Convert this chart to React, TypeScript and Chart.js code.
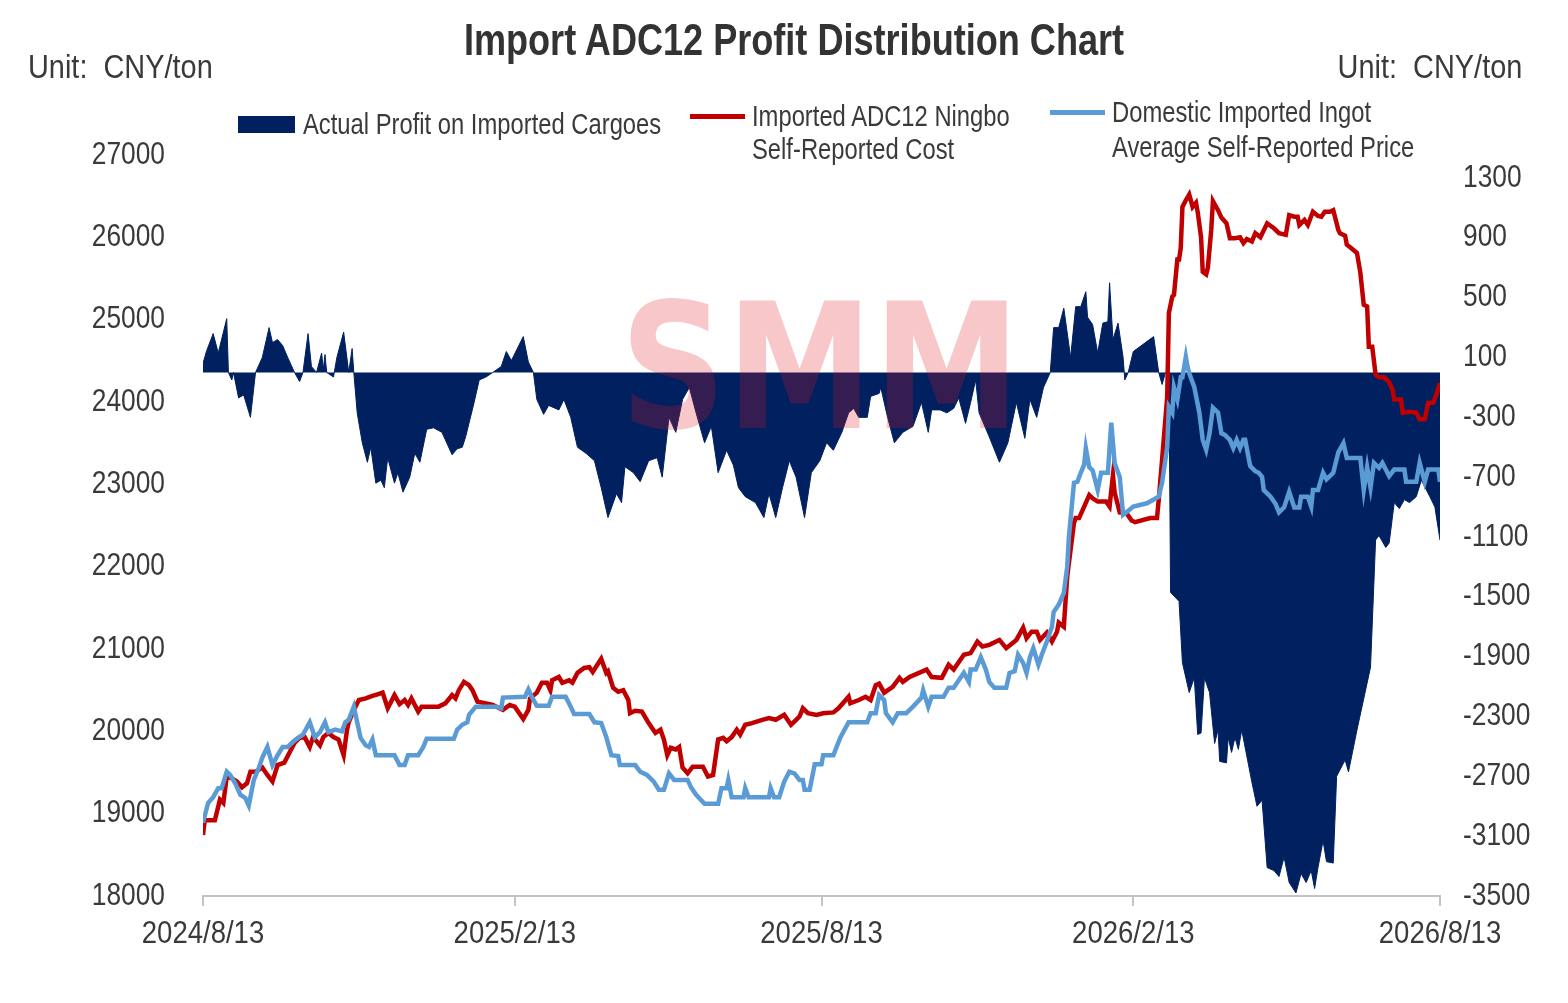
import React, { useEffect, useRef } from "react";
import { Chart, registerables } from "chart.js";

Chart.register(...registerables);

const FONT = "'Liberation Sans Narrow', 'Liberation Sans', Arial, sans-serif";
const TEXT = "#3a3a3a";
const NAVY = "#002060";
const RED = "#c00000";
const BLUE = "#5b9bd5";

// x axis: days since 2024/8/13
const xTickDays = [0, 184, 365, 549, 730];
const xTickLabels = ["2024/8/13", "2025/2/13", "2025/8/13", "2026/2/13", "2026/8/13"];
const leftTicks = [18000, 19000, 20000, 21000, 22000, 23000, 24000, 25000, 26000, 27000];
const rightTicks = [-3500, -3100, -2700, -2300, -1900, -1500, -1100, -700, -300, 100, 500, 900, 1300];

const seriesNames = [
  "Actual Profit on Imported Cargoes",
  "Imported ADC12 Ningbo Self-Reported Cost",
  "Domestic Imported Ingot Average Self-Reported Price",
];

// Actual profit on imported cargoes (right axis)
const profitDay = [
  0, 2, 6, 9, 14, 15, 17, 18, 21, 24, 28, 31, 35, 39, 41, 44, 47, 50, 54, 57, 59, 62, 64, 67, 70, 71, 72, 73, 77, 79,
  83, 86, 88, 89, 91, 94, 97, 99, 102, 105, 107, 109, 113, 115, 118, 122, 125, 128, 132, 136, 141, 147, 150, 153, 155,
  160, 163, 167, 171, 176, 179, 182, 189, 192, 195, 197, 201, 204, 210, 213, 217, 221, 226, 231, 235, 239, 244, 247,
  249, 254, 258, 263, 268, 271, 275, 279, 283, 287, 291, 296, 300, 304, 309, 313, 316, 320, 326, 331, 334, 338, 342,
  346, 350, 355, 359, 364, 368, 372, 377, 381, 384, 387, 392, 394, 399, 400, 404, 408, 413, 419, 424, 428, 430, 435,
  439, 443, 446, 450, 453, 456, 458, 464, 470, 475, 480, 485, 488, 492, 496, 500, 502, 505, 508, 512, 515, 518, 521,
  522, 525, 528, 531, 534, 535, 537, 540, 543, 544, 546, 549, 561, 564, 566, 568, 570, 571, 576, 578, 582, 585, 587,
  589, 591, 594, 597, 599, 600, 604, 605, 607, 609, 611, 613, 619, 622, 625, 628, 632, 635, 638, 641, 645, 648, 651,
  654, 656, 658, 661, 663, 667, 669, 674, 676, 681, 689, 692, 694, 698, 700, 703, 706, 709, 712, 716, 719, 724, 727, 730,
];
const profitValue = [
  60, 140, 260, 130, 360, 0, -50, 0, -170, -150, -300, 0, 100, 300, 200, 220, 180, 100, 0, -60, 0, 260, 40, 0, 130, 20,
  120, 0, -30, 100, 270, 0, 160, 0, -270, -470, -600, -500, -740, -720, -770, -570, -740, -670, -800, -700, -540, -600,
  -380, -370, -400, -550, -510, -500, -430, -200, -50, -30, 0, 40, 140, 80, 240, 70, 0, -180, -280, -220, -250, -180,
  -300, -500, -540, -590, -770, -970, -810, -870, -630, -670, -730, -590, -570, -700, -300, -400, -180, -100, -270,
  -470, -360, -670, -520, -620, -770, -830, -870, -970, -810, -970, -770, -590, -700, -970, -670, -590, -470, -520,
  -400, -270, -240, -300, -300, -160, -140, -100, -300, -470, -400, -360, -200, -400, -250, -250, -270, -240, -170,
  -340, -200, -50, -270, -430, -600, -470, -200, -440, -180, -300, -100, 0, 300, 300, 430, 100, 440, 440, 540, 370,
  320, 130, 330, 340, 600, 220, 330, 100, -50, 0, 140, 240, 0, -80, 0, 0, -1470, -1530, -1940, -2140, -2040, -2420,
  -2410, -2040, -2140, -2480, -2390, -2600, -2610, -2440, -2540, -2440, -2520, -2390, -2740, -2900, -2860, -3310,
  -3330, -3370, -3240, -3410, -3480, -3350, -3410, -3330, -3450, -3310, -3130, -3270, -3280, -2700, -2590, -2670,
  -2390, -1970, -1120, -1090, -1170, -1140, -870, -910, -850, -870, -830, -720, -830, -900, -1120,
];

// Imported ADC12 Ningbo self-reported cost (left axis)
const costDay = [
  0, 1, 7, 10, 12, 14, 17, 20, 23, 26, 28, 31, 35, 38, 41, 44, 48, 51, 54, 57, 60, 63, 65, 69, 71, 74, 77, 80, 83, 85,
  86, 89, 92, 96, 100, 103, 106, 109, 113, 116, 119, 121, 123, 127, 129, 139, 143, 147, 149, 151, 154, 157, 159, 162,
  167, 171, 177, 181, 184, 189, 192, 193, 197, 200, 203, 205, 206, 210, 212, 216, 218, 221, 225, 228, 230, 235, 238,
  239, 242, 245, 248, 251, 252, 255, 259, 263, 267, 270, 272, 274, 276, 279, 281, 283, 286, 289, 295, 298, 301, 304,
  307, 309, 312, 315, 317, 320, 324, 330, 334, 338, 343, 347, 350, 352, 354, 357, 362, 366, 372, 375, 381, 382, 387,
  391, 394, 397, 399, 402, 407, 411, 413, 417, 427, 430, 436, 440, 443, 449, 453, 457, 460, 464, 470, 474, 480, 484,
  486, 489, 492, 494, 498, 501, 504, 505, 508, 510, 514, 515, 517, 520, 523, 525, 528, 533, 535, 537, 538, 541, 545,
  548, 550, 559, 563, 564, 566, 569, 570, 572, 573, 575, 576, 577, 578, 580, 582, 584, 586, 587, 589, 590, 592, 593,
  595, 596, 599, 601, 604, 606, 609, 612, 614, 616, 619, 621, 624, 628, 632, 635, 639, 641, 644, 646, 647, 650, 652,
  655, 658, 660, 662, 665, 667, 670, 671, 674, 675, 677, 681, 683, 685, 687, 688, 690, 692, 694, 697, 700, 702, 703,
  707, 708, 712, 716, 718, 721, 723, 726, 728, 730,
];
const costValue = [
  18740, 18920, 18920, 19170, 19130, 19450, 19430, 19390, 19320, 19370, 19510, 19510, 19560, 19470, 19390, 19590,
  19620, 19740, 19860, 19920, 19930, 19810, 19930, 19830, 19930, 19980, 19930, 19900, 19710, 20020, 20110, 20260,
  20380, 20400, 20430, 20450, 20470, 20280, 20440, 20330, 20380, 20320, 20400, 20240, 20300, 20300, 20340, 20440,
  20400, 20500, 20600, 20560, 20500, 20360, 20340, 20320, 20260, 20320, 20300, 20150, 20260, 20400, 20470, 20590,
  20590, 20500, 20620, 20660, 20590, 20620, 20590, 20710, 20770, 20780, 20720, 20880, 20710, 20730, 20530, 20480,
  20500, 20380, 20220, 20250, 20240, 20100, 19980, 20020, 19900, 19710, 19800, 19780, 19810, 19560, 19490, 19570,
  19570, 19450, 19470, 19900, 19920, 19880, 19930, 20020, 19960, 20080, 20100, 20140, 20160, 20140, 20200, 20080,
  20140, 20180, 20280, 20220, 20200, 20220, 20230, 20280, 20420, 20340, 20380, 20420, 20380, 20560, 20580, 20470,
  20540, 20650, 20600, 20660, 20750, 20660, 20650, 20810, 20750, 20930, 20950, 21090, 21030, 21050, 21110, 21010,
  21110, 21260, 21130, 21210, 21210, 21110, 21200, 21090, 21210, 21320, 21270, 21880, 22530, 22590, 22590, 22730,
  22870, 22830, 22790, 22790, 22730, 23110, 22900, 22660, 22650, 22560, 22540, 22590, 22590, 22810, 23300, 24060,
  25080, 25280, 25300, 25730, 25730, 25870, 26370, 26450, 26520, 26370, 26420, 26310, 26000, 25580, 25550, 25630,
  26090, 26440, 26330, 26240, 26170, 25990, 25990, 26000, 25930, 25980, 25950, 26050, 26000, 26170, 26110, 26050,
  26030, 26270, 26250, 26250, 26150, 26210, 26150, 26310, 26260, 26250, 26310, 26310, 26330, 26090, 26050, 26020,
  25910, 25880, 25810, 25570, 25180, 25160, 24670, 24670, 24330, 24300, 24300, 24240, 24150, 24030, 24030, 23870,
  23880, 23870, 23790, 23790, 23990, 23990, 24100, 24230,
];

// Domestic imported ingot average self-reported price (left axis)
const priceDay = [
  0, 3, 6, 9, 11, 14, 16, 19, 22, 25, 27, 30, 33, 35, 38, 41, 44, 47, 50, 53, 56, 59, 63, 66, 69, 72, 74, 78, 82, 84,
  86, 89, 91, 93, 96, 98, 100, 102, 113, 116, 119, 121, 127, 130, 132, 148, 150, 153, 156, 157, 161, 173, 176, 177, 190,
  192, 194, 197, 204, 206, 214, 217, 219, 228, 231, 235, 238, 241, 245, 246, 255, 258, 262, 266, 269, 272, 275, 278,
  286, 288, 291, 296, 304, 306, 309, 310, 312, 319, 320, 322, 334, 335, 337, 340, 343, 346, 349, 352, 354, 355, 358,
  361, 365, 366, 372, 376, 381, 392, 394, 397, 399, 402, 403, 407, 410, 415, 419, 424, 425, 428, 430, 437, 440, 443,
  446, 449, 452, 453, 456, 459, 462, 464, 467, 474, 476, 479, 481, 484, 486, 488, 490, 493, 495, 498, 501, 502, 505,
  508, 510, 511, 514, 516, 518, 520, 521, 523, 525, 528, 530, 534, 536, 538, 541, 543, 545, 549, 557, 564, 566, 569,
  570, 572, 573, 575, 577, 578, 580, 581, 582, 585, 588, 590, 592, 594, 596, 599, 601, 603, 606, 608, 610, 612, 614,
  615, 618, 621, 623, 625, 626, 630, 633, 635, 638, 641, 644, 647, 648, 652, 654, 655, 658, 661, 663, 667, 670, 673,
  675, 683, 685, 687, 689, 691, 694, 696, 698, 700, 703, 709, 710, 716, 718, 721, 723, 729, 730,
];
const priceValue = [
  18890, 19130, 19200, 19310, 19310, 19510, 19470, 19370, 19230, 19190, 19100, 19410, 19560, 19680, 19810, 19590,
  19710, 19810, 19810, 19870, 19920, 19960, 20110, 19930, 19990, 20110, 19990, 20020, 20000, 20110, 20140, 20300,
  20110, 19920, 19830, 19810, 19900, 19710, 19710, 19590, 19590, 19710, 19710, 19810, 19910, 19910, 20020, 20080,
  20110, 20200, 20300, 20300, 20280, 20410, 20420, 20510, 20420, 20310, 20310, 20420, 20420, 20300, 20210, 20210,
  20110, 20100, 19930, 19710, 19700, 19590, 19590, 19510, 19470, 19390, 19290, 19290, 19490, 19410, 19410, 19320,
  19230, 19120, 19120, 19310, 19310, 19410, 19200, 19200, 19310, 19200, 19200, 19310, 19200, 19200, 19390, 19510,
  19490, 19410, 19410, 19290, 19290, 19600, 19600, 19710, 19710, 19920, 20110, 20110, 20220, 20220, 20440, 20380,
  20220, 20110, 20220, 20220, 20300, 20410, 20500, 20300, 20420, 20420, 20530, 20530, 20620, 20710, 20600, 20750,
  20750, 20900, 20750, 20600, 20530, 20530, 20710, 20730, 20930, 20830, 20710, 20900, 21010, 20810, 20930, 21090,
  21270, 21450, 21540, 21680, 22000, 22360, 23020, 23030, 23140, 23240, 23440, 23210, 23170, 22930, 23140, 23140,
  23750, 23260, 23090, 22630, 22660, 22730, 22770, 22850, 23020, 23450, 23940, 23870, 24180, 24030, 24300, 24300,
  24550, 24430, 24350, 24180, 23870, 23540, 23420, 23620, 23930, 23870, 23620, 23600, 23540, 23440, 23540, 23440,
  23540, 23540, 23220, 23160, 23140, 23090, 22930, 22850, 22760, 22660, 22720, 22910, 22720, 22720, 22850, 22850,
  22730, 22930, 22930, 23140, 23060, 23140, 23390, 23500, 23320, 23320, 22930, 23210, 22960, 23260, 23200, 23260,
  23180, 23100, 23180, 23180, 23030, 23030, 23260, 23030, 23180, 23180, 23030,
];

const toPoints = (days: number[], values: number[]) => days.map((d, i) => ({ x: d, y: values[i] }));

// Tick labels drawn through the library's scales, horizontally condensed
const narrowLabelsPlugin = {
  id: "narrowLabels",
  afterDraw(chart: any) {
    const ctx = chart.ctx as CanvasRenderingContext2D;
    const sx = chart.scales.x;
    const sy = chart.scales.y;
    const sy1 = chart.scales.y1;
    const put = (text: string, px: number, py: number, align: CanvasTextAlign, size: number, squeeze: number) => {
      ctx.save();
      ctx.font = `${size}px ${FONT}`;
      ctx.fillStyle = TEXT;
      ctx.textBaseline = "middle";
      ctx.textAlign = align;
      ctx.translate(px, py);
      ctx.scale(squeeze, 1);
      ctx.fillText(text, 0, 0);
      ctx.restore();
    };
    leftTicks.forEach((v) => put(String(v), sy.right - 38, sy.getPixelForValue(v), "right", 31, 0.85));
    rightTicks.forEach((v) => put(String(v), sy1.left + 23, sy1.getPixelForValue(v), "left", 31, 0.85));
    xTickDays.forEach((d, i) => put(xTickLabels[i], sx.getPixelForValue(d), sx.top + 38, "center", 32, 0.86));
  },
};

const watermarkPlugin = {
  id: "smmWatermark",
  afterDatasetsDraw(chart: any) {
    const ctx = chart.ctx as CanvasRenderingContext2D;
    const boxLeft = 620;
    const boxTop = 300;
    const boxW = 400;
    const boxH = 128;
    ctx.save();
    const size = boxH / 0.73;
    ctx.font = `bold ${size}px 'DejaVu Sans', sans-serif`;
    const w = ctx.measureText("SMM").width;
    ctx.translate(boxLeft, boxTop + boxH);
    ctx.scale(boxW / w, 1);
    ctx.fillStyle = "rgba(225, 20, 35, 0.24)";
    ctx.textBaseline = "alphabetic";
    ctx.fillText("SMM", 0, 0);
    ctx.restore();
  },
};

function ChartCanvas() {
  const ref = useRef<HTMLCanvasElement | null>(null);
  useEffect(() => {
    if (!ref.current) return;
    const chart = new Chart(ref.current, {
      type: "line",
      data: {
        datasets: [
          {
            label: seriesNames[2],
            data: toPoints(priceDay, priceValue),
            yAxisID: "y",
            borderColor: BLUE,
            borderWidth: 4.5,
            pointRadius: 0,
            fill: false,
            order: 0,
          },
          {
            label: seriesNames[1],
            data: toPoints(costDay, costValue),
            yAxisID: "y",
            borderColor: RED,
            borderWidth: 4.5,
            pointRadius: 0,
            fill: false,
            order: 1,
          },
          {
            label: seriesNames[0],
            data: toPoints(profitDay, profitValue),
            yAxisID: "y1",
            borderColor: NAVY,
            backgroundColor: NAVY,
            borderWidth: 1,
            pointRadius: 0,
            fill: "origin",
            order: 2,
          },
        ],
      } as any,
      options: {
        animation: false,
        responsive: true,
        maintainAspectRatio: false,
        layout: { padding: { top: 155, left: 0, right: 0, bottom: 0 } },
        elements: { line: { tension: 0 }, point: { radius: 0 } },
        plugins: {
          legend: { display: false },
          tooltip: { enabled: false },
          title: { display: false },
        },
        scales: {
          x: {
            type: "linear",
            min: 0,
            max: 730,
            afterBuildTicks: (axis: any) => {
              axis.ticks = xTickDays.map((v) => ({ value: v }));
            },
            afterFit: (axis: any) => {
              axis.height = 107;
            },
            ticks: { display: false, autoSkip: false, maxRotation: 0 },
            grid: {
              display: true,
              drawOnChartArea: false,
              drawTicks: true,
              tickLength: 10,
              color: "#c3c3c3",
              lineWidth: 2,
            },
            border: { display: true, color: "#c3c3c3", width: 2 },
          },
          y: {
            position: "left",
            min: 18000,
            max: 27000,
            afterBuildTicks: (axis: any) => {
              axis.ticks = leftTicks.map((v) => ({ value: v }));
            },
            afterFit: (axis: any) => {
              axis.width = 203;
            },
            ticks: { display: false },
            grid: { display: false, drawTicks: false, tickLength: 0 },
            border: { display: false },
          },
          y1: {
            position: "right",
            min: -3500,
            max: 1454,
            afterBuildTicks: (axis: any) => {
              axis.ticks = rightTicks.map((v) => ({ value: v }));
            },
            afterFit: (axis: any) => {
              axis.width = 128;
            },
            ticks: { display: false },
            grid: { display: false, drawTicks: false, tickLength: 0 },
            border: { display: false },
          },
        },
      } as any,
      plugins: [watermarkPlugin, narrowLabelsPlugin],
    });
    return () => chart.destroy();
  }, []);
  return <canvas ref={ref} />;
}

const txt = (extra: React.CSSProperties): React.CSSProperties => ({
  position: "absolute",
  whiteSpace: "pre",
  fontFamily: FONT,
  color: TEXT,
  lineHeight: 1,
  ...extra,
});

const leftText = (left: number, top: number, size: number, squeeze: number): React.CSSProperties =>
  txt({
    left,
    top,
    fontSize: size,
    transformOrigin: "0 50%",
    transform: `translateY(-50%) scaleX(${squeeze})`,
  });

export default function App() {
  return (
    <div
      style={{
        position: "absolute",
        left: 0,
        top: 0,
        width: 1568,
        height: 1003,
        background: "#ffffff",
        overflow: "hidden",
      }}
    >
      <div style={{ position: "absolute", left: 0, top: 0, width: 1568, height: 1003 }}>
        <ChartCanvas />
      </div>
      <div
        style={txt({
          left: 794,
          top: 40,
          transform: "translate(-50%, -50%) scaleX(0.82)",
          fontSize: 44,
          fontWeight: "bold",
          color: "#333333",
        })}
      >
        Import ADC12 Profit Distribution Chart
      </div>
      <div style={leftText(28, 66, 34, 0.85)}>Unit:  CNY/ton</div>
      <div
        style={txt({
          right: 1568 - 1522,
          top: 66,
          fontSize: 34,
          transformOrigin: "100% 50%",
          transform: "translateY(-50%) scaleX(0.85)",
        })}
      >
        Unit:  CNY/ton
      </div>
      {/* legend */}
      <div style={{ position: "absolute", left: 238, top: 116, width: 57, height: 17, background: NAVY }} />
      <div style={leftText(303, 124, 29, 0.82)}>{seriesNames[0]}</div>
      <div style={{ position: "absolute", left: 690, top: 114, width: 55, height: 5, background: RED }} />
      <div style={leftText(752, 116, 29, 0.82)}>Imported ADC12 Ningbo</div>
      <div style={leftText(752, 149, 29, 0.82)}>Self-Reported Cost</div>
      <div style={{ position: "absolute", left: 1050, top: 110, width: 55, height: 5, background: BLUE }} />
      <div style={leftText(1112, 112, 29, 0.82)}>Domestic Imported Ingot</div>
      <div style={leftText(1112, 147, 29, 0.82)}>Average Self-Reported Price</div>
    </div>
  );
}
